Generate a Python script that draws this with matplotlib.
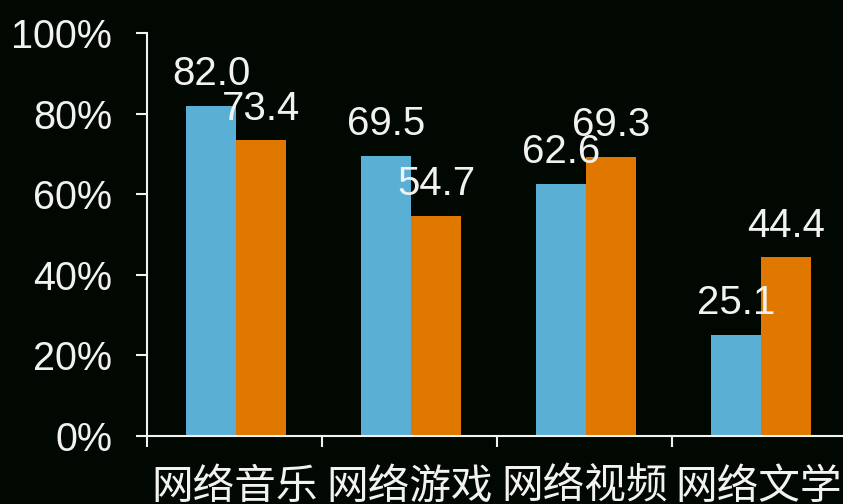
import numpy as np
import matplotlib.pyplot as plt

categories = ['网络音乐', '网络游戏', '网络视频', '网络文学']
series_a = [82.0, 69.5, 62.6, 25.1]
series_b = [73.4, 54.7, 69.3, 44.4]
yticks = [0, 20, 40, 60, 80, 100]

bg = '#010801'
fg = '#f2f2f2'
blue = '#5aafd4'
orange = '#e07800'

plt.rcParams['font.family'] = ['Liberation Sans', 'Noto Sans CJK SC', 'DejaVu Sans']

fig = plt.figure(figsize=(8.43, 5.04), dpi=100, facecolor=bg)
ax = fig.add_axes([0.1744, 0.1349, 0.8256, 0.7996], facecolor=bg)

x = np.arange(len(categories)) + 0.01
w = 0.286
bars_a = ax.bar(x - w / 2, series_a, w, color=blue)
bars_b = ax.bar(x + w / 2, series_b, w, color=orange)

for bars, vals in ((bars_a, series_a), (bars_b, series_b)):
    for b, v in zip(bars, vals):
        ax.annotate(f'{v:.1f}', (b.get_x() + b.get_width() / 2, v),
                    xytext=(0, 9), textcoords='offset points',
                    ha='center', va='bottom', color=fg, fontsize=29)

ax.set_xlim(-0.5, 3.48)
ax.set_ylim(0, 100)
ax.set_yticks(yticks)
ax.set_yticklabels([f'{t}%' for t in yticks], fontsize=28.5, color=fg)

# category labels sit between the boundary ticks
ax.set_xticks(np.arange(-0.5, 3.5, 1.0))
ax.set_xticklabels([])
ax.set_xticks(np.arange(len(categories)), minor=True)
ax.set_xticklabels(categories, minor=True, fontsize=30, color=fg,
                   family=['Noto Sans CJK SC', 'DejaVu Sans'])
ax.tick_params(axis='x', which='minor', length=0, pad=22)
ax.tick_params(axis='x', which='major', length=8, width=1.5, color=fg)
ax.tick_params(axis='y', length=8, width=1.5, color=fg, pad=17)

for side in ('top', 'right'):
    ax.spines[side].set_visible(False)
for side in ('left', 'bottom'):
    ax.spines[side].set_color(fg)
    ax.spines[side].set_linewidth(1.5)
ax.spines['left'].set_bounds(0, 100)

fig.savefig('out.png', dpi=100, facecolor=bg)
